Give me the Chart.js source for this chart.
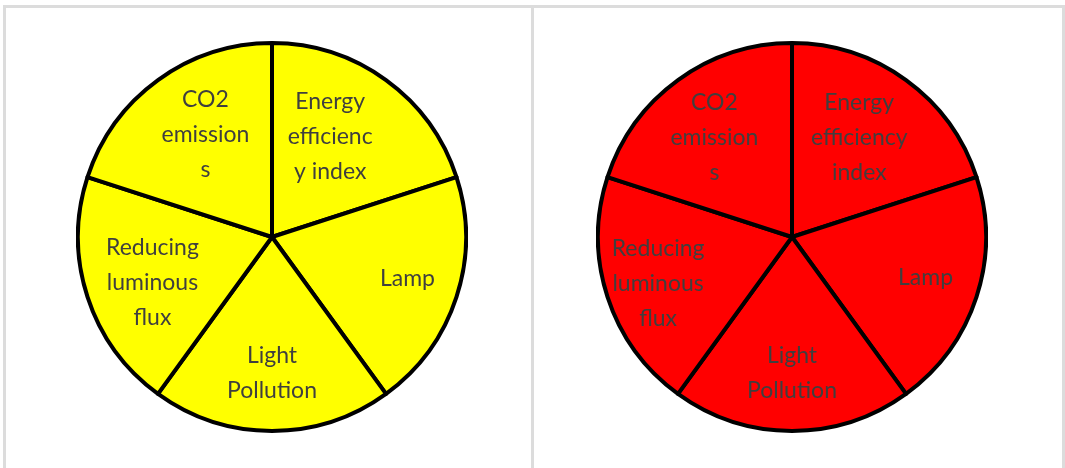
<!DOCTYPE html>
<html>
<head>
<meta charset="utf-8">
<script src="https://cdn.jsdelivr.net/npm/chart.js@4"></script>
<style>
  html, body { margin: 0; padding: 0; background: #fff; width: 1065px; height: 468px; overflow: hidden; }
  .panel { position: absolute; top: 5px; height: 480px; border: 3px solid #dcdcdc; border-bottom: none; box-sizing: border-box; }
  canvas { position: absolute; }
</style>
</head>
<body>
<div class="panel" style="left:3px; width:531px;"></div>
<div class="panel" style="left:531px; width:534px;"></div>
<canvas id="pieLeft" width="392" height="392" style="left:76px; top:41px;"></canvas>
<canvas id="pieRight" width="392" height="392" style="left:596px; top:41px;"></canvas>
<script>
// slices clockwise from the top, all the same size
const categories = ['Energy efficiency index', 'Lamp', 'Light Pollution', 'Reducing luminous flux', 'CO2 emissions']
const sliceValues = [1, 1, 1, 1, 1]

// how the labels are wrapped inside each pie
const leftLabelLines = [['Energy', 'efficienc', 'y index'], ['Lamp'], ['Light', 'Pollution'], ['Reducing', 'luminous', 'flux'], ['CO2', 'emission', 's']]
const rightLabelLines = [['Energy', 'efficiency', 'index'], ['Lamp'], ['Light', 'Pollution'], ['Reducing', 'luminous', 'flux'], ['CO2', 'emission', 's']]

// draws the wrapped text inside each slice
const sliceLabels = {
  id: 'sliceLabels',
  afterDatasetsDraw(chart, args, opts) {
    const ctx = chart.ctx
    const arcs = chart.getDatasetMeta(0).data
    ctx.save()
    ctx.font = '23px Lato'
    ctx.fillStyle = opts.color
    ctx.textAlign = 'center'
    ctx.textBaseline = 'middle'
    arcs.forEach((arc, i) => {
      const p = arc.getProps(['x', 'y', 'startAngle', 'endAngle', 'outerRadius'], true)
      const mid = (p.startAngle + p.endAngle) / 2 + (opts.angleShift[i] || 0) * Math.PI / 180
      const r = p.outerRadius * opts.radius[i]
      const cx = p.x + Math.cos(mid) * r
      const cy = p.y + Math.sin(mid) * r
      const lines = opts.lines[i]
      const lh = 35
      lines.forEach((line, k) => {
        ctx.fillText(line, cx, cy + (k - (lines.length - 1) / 2) * lh)
      })
    })
    ctx.restore()
  }
}

function makePie(id, fill, lines, radius, angleShift) {
  const ctx = document.getElementById(id).getContext('2d')
  return new Chart(ctx, {
    type: 'pie',
    data: {
      labels: categories,
      datasets: [{
        data: sliceValues,
        backgroundColor: fill,
        borderColor: '#000',
        borderWidth: 4,
        borderJoinStyle: 'round'
      }]
    },
    options: {
      responsive: false,
      animation: false,
      layout: { padding: 0 },
      plugins: {
        legend: { display: false },
        tooltip: { enabled: false },
        sliceLabels: { color: '#3f3f3f', lines, radius, angleShift }
      }
    },
    plugins: [sliceLabels]
  })
}

makePie('pieLeft', '#ffff00', leftLabelLines, [0.6, 0.73, 0.7, 0.66, 0.63], [-6, -1, 0, -3, 3])
makePie('pieRight', '#ff0000', rightLabelLines, [0.62, 0.72, 0.7, 0.73, 0.65], [-2, -1, 0, -1, -2])
</script>
</body>
</html>
